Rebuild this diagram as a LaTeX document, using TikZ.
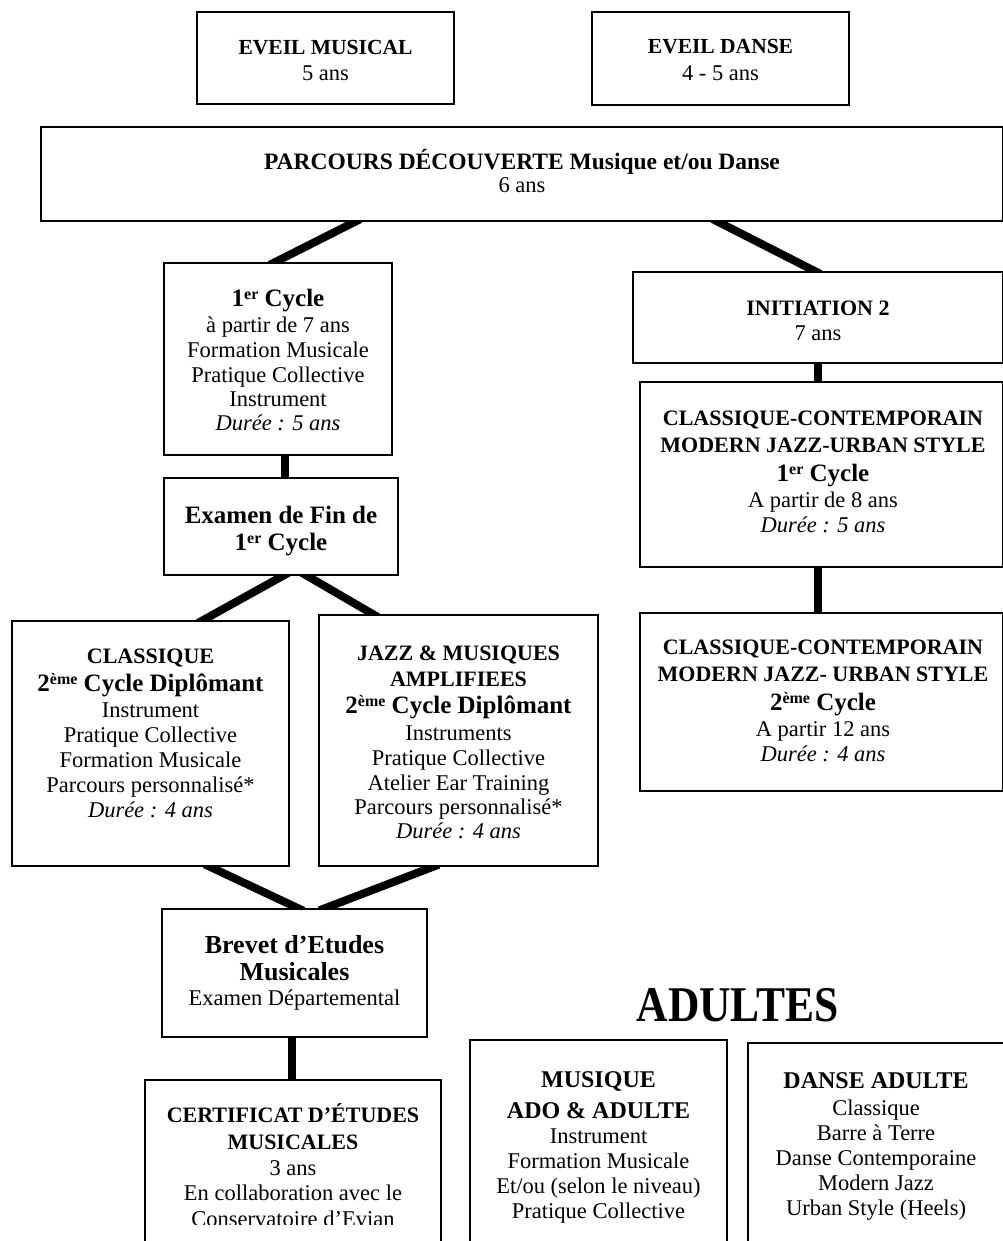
\documentclass[tikz,border=0pt]{standalone}
\usepackage{fontspec}
\setmainfont{Liberation Serif}
\usetikzlibrary{fit}
\pgfdeclarelayer{bg}
\pgfdeclarelayer{links}
\pgfsetlayers{bg,links,main}
\newcommand\fs[2]{\fontsize{#1}{#2}\selectfont}
\newcommand\xsup[1]{\smash{\raisebox{0.27em}{\scalebox{0.64}{#1}}}}
\newcommand\B[2]{{\fs{#1}{25}\bfseries #2}}
\newcommand\lns[1]{\begin{tabular}[t]{@{}c@{}}#1\end{tabular}}
\tikzset{
  box/.style={draw=black, line width=1.6pt, fill=white, inner sep=0pt, rectangle},
  txt/.style={anchor=base, inner sep=0pt, font=\fs{22.5}{25}},
  link/.style={line width=8pt, line cap=butt, shorten <=-6pt, shorten >=-6pt},
}
\begin{document}
\begin{tikzpicture}[x=1pt, y=-1pt]
\useasboundingbox (0,0) rectangle (1002,1241);
\begin{pgfonlayer}{bg}
\fill[white] (0,0) rectangle (1002,1241);
\end{pgfonlayer}

% boxes
\node[box, fit={(197,12)(454,104)}] (em) {};
\node[box, fit={(592,12)(849,105)}] (ed) {};
\node[box, fit={(41,127)(1003,221)}] (pd) {};
\node[box, fit={(164,263)(392,455)}] (c1) {};
\node[box, fit={(164,478)(398,575)}] (ex) {};
\node[box, fit={(12,621)(289,866)}] (cl) {};
\node[box, fit={(319,615)(598,866)}] (jz) {};
\node[box, fit={(162,909)(427,1037)}] (br) {};
\node[box, fit={(145,1080)(441,1252)}] (ce) {};
\node[box, fit={(633,272)(1003,363)}] (i2) {};
\node[box, fit={(640,382)(1003,567)}] (cc1) {};
\node[box, fit={(640,613)(1003,791)}] (cc2) {};
\node[box, fit={(470,1040)(727,1252)}] (mu) {};
\node[box, fit={(748,1043)(1004,1252)}] (da) {};

% texts
\node[txt] (emt) at (325.5,55) {\lns{\B{21.5}{EVEIL MUSICAL}\\[1pt] 5 ans}};
\node[txt] (edt) at (720.5,54) {\lns{\B{21.5}{EVEIL DANSE}\\[2pt] 4 - 5 ans}};
\node[txt] (pdt) at (522,170) {\lns{\B{23.5}{PARCOURS DÉCOUVERTE Musique et/ou Danse}\\[-2pt] 6 ans}};
\node[txt] (c1t) at (278,306) {\lns{\B{25}{1\xsup{er} Cycle}\\[1pt] à partir de 7 ans\\ Formation Musicale\\ Pratique Collective\\[-1pt] Instrument\\[-1pt] \textit{Durée : 5 ans}}};
\node[txt] (ext) at (281,523) {\lns{\B{25}{Examen de Fin de}\\[2pt] \B{25}{1\xsup{er} Cycle}}};
\node[txt] (clt) at (150.5,663) {\lns{\B{22}{CLASSIQUE}\\[3pt] \B{25}{2\xsup{ème} Cycle Diplômant}\\[1pt] Instrument\\ Pratique Collective\\ Formation Musicale\\ Parcours personnalisé*\\ \textit{Durée : 4 ans}}};
\node[txt] (jzt) at (458.5,660) {\lns{\B{22}{JAZZ \& MUSIQUES}\\[1pt] \B{22}{AMPLIFIEES}\\[2pt] \B{25}{2\xsup{ème} Cycle Diplômant}\\[2pt] Instruments\\ Pratique Collective\\ Atelier Ear Training\\[-1pt] Parcours personnalisé*\\[-1pt] \textit{Durée : 4 ans}}};
\node[txt] (brt) at (294.5,953) {\lns{\B{26}{Brevet d’Etudes}\\[2pt] \B{26}{Musicales}\\ Examen Départemental}};
\begin{scope}
\clip (140,1070) rectangle (450,1224);
\node[txt] (cet) at (293,1122) {\lns{\B{22}{CERTIFICAT D’ÉTUDES}\\[2pt] \B{22}{MUSICALES}\\[1pt] 3 ans\\ En collaboration avec le\\[1pt] Conservatoire d’Evian}};
\end{scope}
\node[txt] (i2t) at (818,315) {\lns{\B{22}{INITIATION 2}\\ 7 ans}};
\node[txt] (cc1t) at (823,425) {\lns{\B{22}{CLASSIQUE-CONTEMPORAIN}\\[2pt] \B{22}{MODERN JAZZ-URBAN STYLE}\\[4pt] \B{25}{1\xsup{er} Cycle}\\[1pt] A partir de 8 ans\\ \textit{Durée : 5 ans}}};
\node[txt] (cc2t) at (823,654) {\lns{\B{22}{CLASSIQUE-CONTEMPORAIN}\\[2pt] \B{22}{MODERN JAZZ- URBAN STYLE}\\[4pt] \B{25}{2\xsup{ème} Cycle}\\[1pt] A partir 12 ans\\ \textit{Durée : 4 ans}}};
\node[anchor=base, inner sep=0pt] (adt) at (737.5,1021) {\scalebox{0.87}[1]{\fs{50}{55}\bfseries ADULTES}};
\node[txt] (mut) at (598.5,1087) {\lns{\B{24}{MUSIQUE}\\[6pt] \B{24}{ADO \& ADULTE}\\ Instrument\\ Formation Musicale\\ Et/ou (selon le niveau)\\ Pratique Collective}};
\node[txt] (dat) at (876,1088) {\lns{\B{24}{DANSE ADULTE}\\[2pt] Classique\\ Barre à Terre\\ Danse Contemporaine\\ Modern Jazz\\ Urban Style (Heels)}};

% connectors
\begin{pgfonlayer}{links}
\draw[link] ([xshift=-167pt]pd.south) -- ([xshift=-3pt]c1.north);
\draw[link] ([xshift=196pt]pd.south) -- ([xshift=-3pt]i2.north);
\draw[link] (i2.south) -- (i2.south |- cc1.north);
\draw[link] ([xshift=-3.5pt]cc1.south) -- ([xshift=-3.5pt]cc2.north);
\draw[link] ([xshift=7pt]c1.south) -- ([xshift=4pt]ex.north);
\draw[link] ([xshift=2pt]ex.south) -- ([xshift=52.5pt]cl.north);
\draw[link] ([xshift=26pt]ex.south) -- ([xshift=-85.5pt]jz.north);
\draw[link] ([xshift=59.5pt]cl.south) -- ([xshift=3.5pt]br.north);
\draw[link] ([xshift=-25.5pt]jz.south) -- ([xshift=30.5pt]br.north);
\draw[link] ([xshift=-2.5pt]br.south) -- ([xshift=-1pt]ce.north);
\end{pgfonlayer}
\end{tikzpicture}
\end{document}
